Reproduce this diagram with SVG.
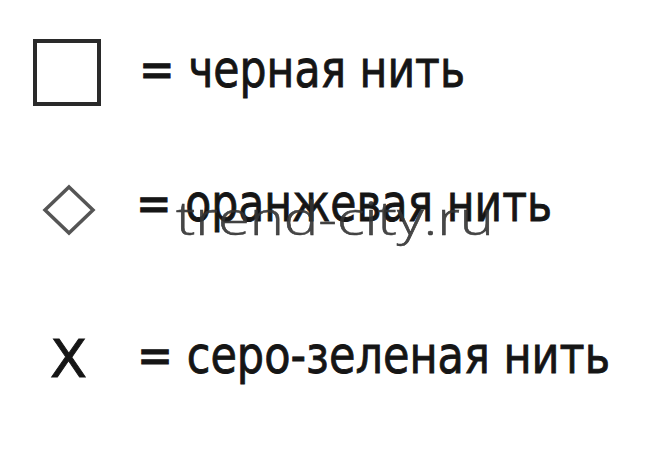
<svg xmlns="http://www.w3.org/2000/svg" width="659" height="450" viewBox="0 0 659 450">
<style>
.lbl{font-family:"DejaVu Sans","Liberation Sans",sans-serif;font-size:52px;fill:#151515;stroke:#151515;stroke-width:0.9}
.wm{font-family:"Open Sans","DejaVu Sans",sans-serif;font-weight:300;font-size:46px;fill:#333333;stroke:#333333;stroke-width:0.5;fill-opacity:0.9}
</style>
<rect width="659" height="450" fill="#ffffff"/>
<g id="row-black">
<rect x="35" y="41" width="64" height="63" fill="none" stroke="#2a2a2a" stroke-width="4"/>
<text class="lbl" x="139" y="87" textLength="326" lengthAdjust="spacingAndGlyphs">= черная нить</text>
</g>
<g id="row-orange">
<polygon points="69,187 93,210 69,233 45,210" fill="none" stroke="#555" stroke-width="3.5"/>
<text class="lbl" x="136" y="221" textLength="416" lengthAdjust="spacingAndGlyphs">= оранжевая нить</text>
</g>
<g id="row-grey-green">
<text class="lbl" x="50" y="377" font-size="58" stroke-width="2.5" textLength="37" lengthAdjust="spacingAndGlyphs">X</text>
<text class="lbl" x="137" y="373" textLength="473" lengthAdjust="spacingAndGlyphs">= серо-зеленая нить</text>
</g>
<g id="watermark">
<text class="wm" x="176" y="235" textLength="318" lengthAdjust="spacingAndGlyphs">trend-city.ru</text>
</g>
</svg>
